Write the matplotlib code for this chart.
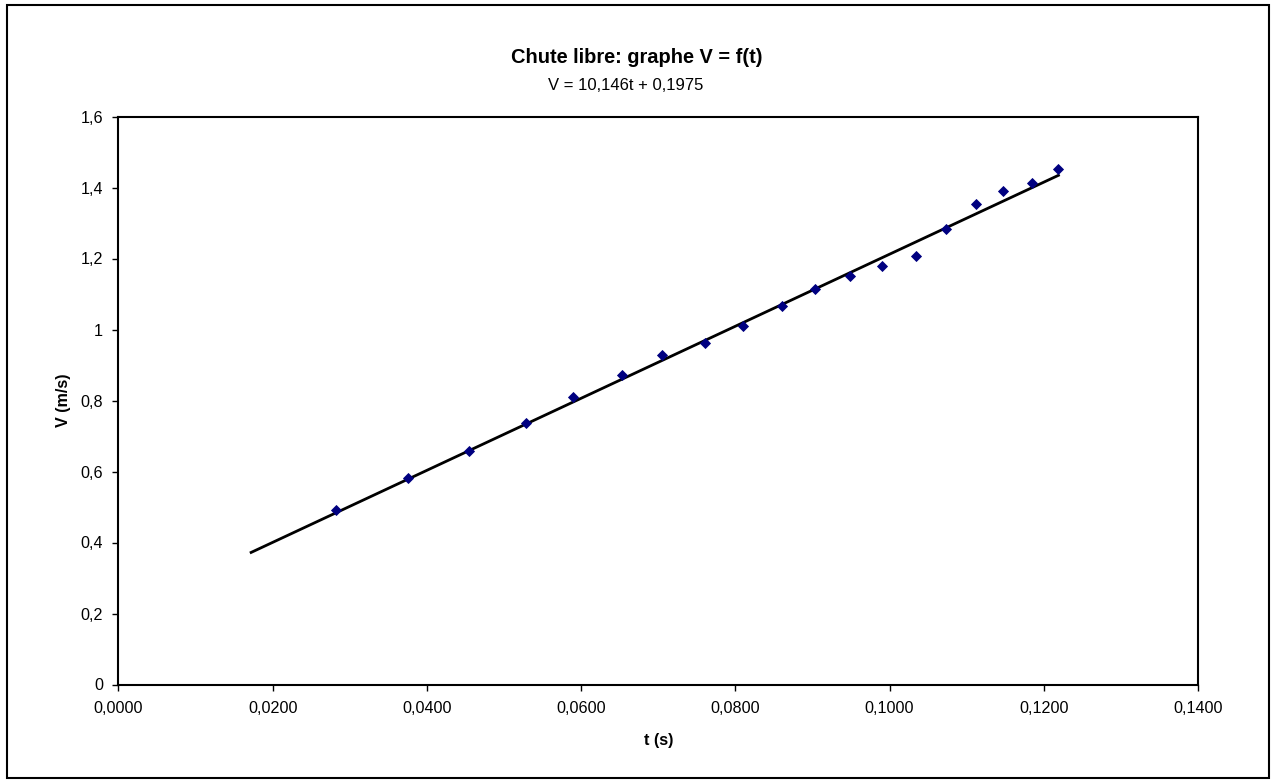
import matplotlib
matplotlib.use("Agg")
import matplotlib.pyplot as plt
from matplotlib.patches import Rectangle
from matplotlib.ticker import FuncFormatter, MultipleLocator

plt.rcParams['font.family'] = ['Liberation Sans', 'DejaVu Sans']

# Data
t_values = [0.02821, 0.03758, 0.04542, 0.05281, 0.05898, 0.06526, 0.07053,
            0.07606, 0.08099, 0.08601, 0.09037, 0.09491, 0.09906, 0.10343,
            0.10736, 0.11125, 0.11475, 0.11843, 0.12188]
v_values = [0.4915, 0.5825, 0.6586, 0.7358, 0.8107, 0.8727, 0.9290,
            0.9628, 1.0107, 1.0654, 1.1132, 1.1499, 1.1780, 1.2070,
            1.2839, 1.3535, 1.3910, 1.4118, 1.4513]
trend_slope = 10.146
trend_intercept = 0.1975
trend_t = [0.0172, 0.1219]

title = "Chute libre: graphe V = f(t)"
subtitle = "V = 10,146t + 0,1975"
x_label = "t (s)"
y_label = "V (m/s)"

W, H = 1272, 782
fig = plt.figure(figsize=(W / 100, H / 100), dpi=100)
fig.patch.set_facecolor('white')

left, right, top, bottom = 118.5, 1198, 116.5, 684.5
ax = fig.add_axes([left / W, 1 - bottom / H, (right - left) / W, (bottom - top) / H])

ax.plot(t_values, v_values, linestyle='none', marker='D', markersize=4.8,
        color='#000080', markeredgecolor='#000080', markeredgewidth=0.6, zorder=3)
trend_v = [trend_slope * t + trend_intercept for t in trend_t]
ax.plot(trend_t, trend_v, color='black', linewidth=2.0, zorder=2)

ax.set_xlim(0, 0.14)
ax.set_ylim(0, 1.6)
ax.xaxis.set_major_locator(MultipleLocator(0.02))
ax.yaxis.set_major_locator(MultipleLocator(0.2))
ax.xaxis.set_major_formatter(FuncFormatter(lambda v, p: f"{v:.4f}".replace('.', ',')))

def yfmt(v, p):
    s = f"{v:.1f}"
    if s.endswith('.0'):
        s = s[:-2]
    return s.replace('.', ',')
ax.yaxis.set_major_formatter(FuncFormatter(yfmt))

for s in ax.spines.values():
    s.set_linewidth(1.5)
    s.set_color('black')
ax.tick_params(axis='both', direction='out', length=4, width=1, labelsize=11.6, colors='black')
ax.tick_params(axis='x', pad=8)
ax.tick_params(axis='y', pad=7)

ax.set_xlabel(x_label, fontsize=11.6, fontweight='bold')
ax.xaxis.set_label_coords(0.5, (bottom - 741) / (bottom - top))
ax.xaxis.label.set_va('center')
ax.set_ylabel(y_label, fontsize=11.6, fontweight='bold')
ax.yaxis.set_label_coords((64 - left) / (right - left), 0.5)
ax.yaxis.label.set_va('center')

fig.text(637 / W, 1 - 57.5 / H, title, ha='center', va='center', fontsize=14.4, fontweight='bold')
fig.text(626 / W, 1 - 86 / H, subtitle, ha='center', va='center', fontsize=12.0)

fig.add_artist(Rectangle((7 / W, 1 - 778 / H), (1269 - 7) / W, (778 - 5) / H,
                         transform=fig.transFigure, fill=False, edgecolor='black', linewidth=1.5))

fig.savefig("out.png", dpi=100, facecolor='white')
